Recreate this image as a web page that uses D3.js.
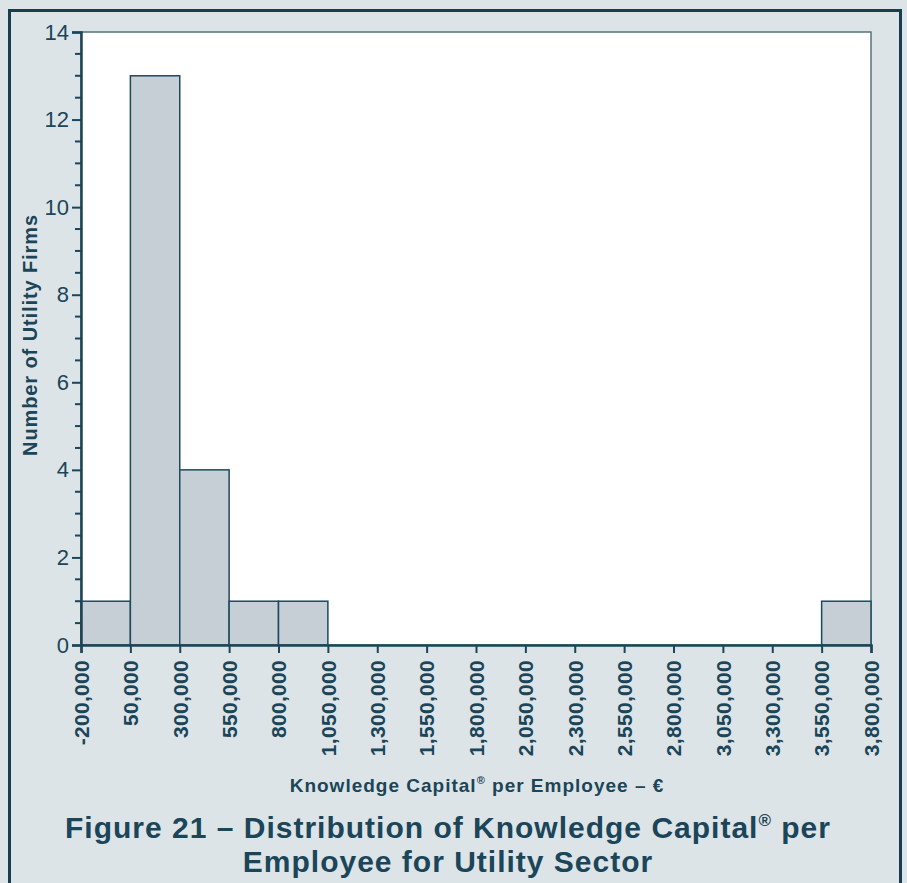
<!DOCTYPE html>
<html><head><meta charset="utf-8">
<script src="https://cdn.jsdelivr.net/npm/d3@7"></script>
<style>
html,body{margin:0;padding:0;background:#dde4e7;}
svg{display:block;font-family:"Liberation Sans",Arial,Helvetica,sans-serif;}
</style></head>
<body>
<svg id="chart" width="907" height="883"></svg>
<script>
// Data
const binEdges = [-200000, 50000, 300000, 550000, 800000, 1050000, 1300000, 1550000, 1800000, 2050000, 2300000, 2550000, 2800000, 3050000, 3300000, 3550000, 3800000];
const counts = [1, 13, 4, 1, 1, 0, 0, 0, 0, 0, 0, 0, 0, 0, 0, 1];
const yTicks = [0, 2, 4, 6, 8, 10, 12, 14];
const yMinorTicks = d3.range(0, 14.01, 0.5);
const xTitle = "Knowledge Capital";
const yTitle = "Number of Utility Firms";

const ink = "#1b4558";
const svg = d3.select("#chart");

// frame
svg.append("rect").attr("x", 0).attr("y", 0).attr("width", 907).attr("height", 883).attr("fill", "#dde4e7");
svg.append("rect").attr("x", 9.5).attr("y", 10.5).attr("width", 891).attr("height", 890)
  .attr("fill", "#dde4e7").attr("stroke", "#173d4f").attr("stroke-width", 3);

const m = {left: 81, right: 871, top: 32, bottom: 645};
const x = d3.scaleLinear().domain([-200000, 3800000]).range([m.left, m.right]);
const y = d3.scaleLinear().domain([0, 14]).range([m.bottom, m.top]);

// plot area
svg.append("rect").attr("x", m.left).attr("y", m.top).attr("width", m.right - m.left).attr("height", m.bottom - m.top)
  .attr("fill", "#ffffff").attr("stroke", "#56737f").attr("stroke-width", 1.5);

// bars
const bins = counts.map((c, i) => ({x0: binEdges[i], x1: binEdges[i + 1], c}));
svg.append("g").selectAll("rect").data(bins.filter(d => d.c > 0)).join("rect")
  .attr("x", d => x(d.x0)).attr("width", d => x(d.x1) - x(d.x0))
  .attr("y", d => y(d.c)).attr("height", d => y(0) - y(d.c))
  .attr("fill", "#c5cfd5").attr("stroke", "#1e4a5c").attr("stroke-width", 1.5);

// y axis
const yAxis = svg.append("g").attr("transform", `translate(${m.left},0)`)
  .call(d3.axisLeft(y).tickValues(yTicks).tickSize(9).tickPadding(3).tickFormat(d3.format("d")));
yAxis.select(".domain").attr("stroke", ink).attr("stroke-width", 2.5);
yAxis.selectAll(".tick line").attr("stroke", ink).attr("stroke-width", 2);
yAxis.selectAll("text").attr("fill", ink).attr("font-size", 22).attr("font-family", "Liberation Sans, Arial, sans-serif");
svg.append("g").selectAll("line").data(yMinorTicks.filter(v => !yTicks.includes(v))).join("line")
  .attr("x1", m.left - 6).attr("x2", m.left).attr("y1", d => y(d)).attr("y2", d => y(d))
  .attr("stroke", ink).attr("stroke-width", 2);

// x axis
const fmt = d3.format(",");
const xAxis = svg.append("g").attr("transform", `translate(0,${m.bottom})`)
  .call(d3.axisBottom(x).tickValues(binEdges).tickSize(8).tickFormat(d => fmt(d).replace("−", "-")));
xAxis.select(".domain").attr("stroke", ink).attr("stroke-width", 2.5);
xAxis.selectAll(".tick line").attr("stroke", ink).attr("stroke-width", 2);
xAxis.selectAll("text").attr("fill", ink).attr("font-size", 21).attr("font-weight", "bold")
  .attr("font-family", "Liberation Sans, Arial, sans-serif").attr("letter-spacing", 0.3)
  .attr("text-anchor", "end").attr("transform", "rotate(-90)")
  .attr("x", -15).attr("y", 0).attr("dy", "0.35em");

// y title
svg.append("text").attr("transform", `translate(37,335) rotate(-90)`)
  .attr("text-anchor", "middle").attr("fill", ink).attr("font-size", 20).attr("font-weight", "bold")
  .attr("letter-spacing", 0.9)
  .text(yTitle);

// x title
const xt = svg.append("text").attr("x", 477).attr("y", 792).attr("text-anchor", "middle")
  .attr("fill", ink).attr("font-size", 19).attr("font-weight", "bold").attr("letter-spacing", 1);
xt.append("tspan").text(xTitle);
xt.append("tspan").attr("font-size", 11).attr("dy", -8).text("®");
xt.append("tspan").attr("dy", 8).text(" per Employee – €");

// main title
const t1 = svg.append("text").attr("x", 448).attr("y", 838).attr("text-anchor", "middle")
  .attr("fill", ink).attr("font-size", 30).attr("font-weight", "bold").attr("letter-spacing", 1);
t1.append("tspan").text("Figure 21 – Distribution of Knowledge Capital");
t1.append("tspan").attr("font-size", 17).attr("dy", -12).text("®");
t1.append("tspan").attr("dy", 12).text(" per");
svg.append("text").attr("x", 448).attr("y", 872).attr("text-anchor", "middle")
  .attr("fill", ink).attr("font-size", 30).attr("font-weight", "bold").attr("letter-spacing", 1)
  .text("Employee for Utility Sector");
</script>
</body></html>
